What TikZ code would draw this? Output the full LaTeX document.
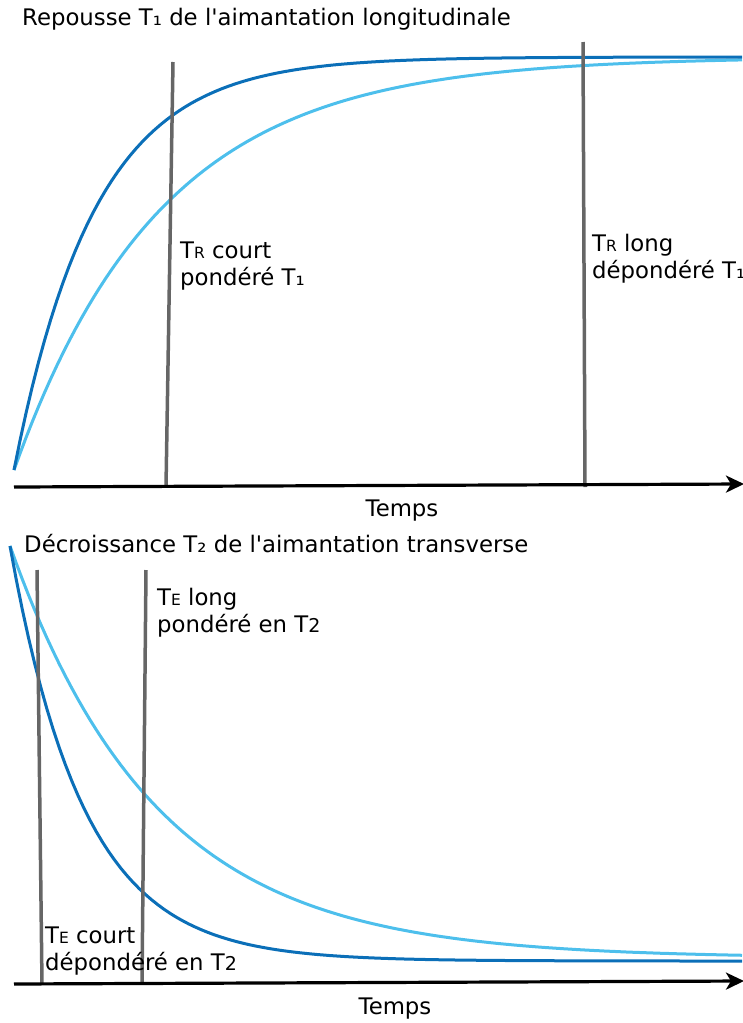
\documentclass[tikz,border=0pt]{standalone}
\usepackage{fontspec}
\setmainfont{DejaVu Sans}
\usetikzlibrary{arrows.meta}
\definecolor{darkcurve}{HTML}{0B6FB8}
\definecolor{lightcurve}{HTML}{4DBFEC}
\definecolor{markline}{HTML}{666666}
\newcommand{\sm}[1]{{\fontsize{15.5}{15.5}\selectfont #1}}
\newcommand{\ap}{\textquotesingle}
\tikzset{
    axis/.style={line width=3.2pt, -{Stealth[length=18pt,width=17pt,inset=5pt]}},
    curve/.style={line width=3pt},
    marker/.style={markline, line width=3.5pt},
    lbl/.style={anchor=base west, align=left, inner sep=0pt, font=\fontsize{22.8}{27}\selectfont}
}
\begin{document}
\begin{tikzpicture}[x=1pt,y=-1pt]
    \useasboundingbox (0,0) rectangle (742,1023);
    % repousse T1
    \node[lbl] at (22,25) (title1) {Repousse T₁ de l\ap aimantation longitudinale};
    \draw[curve,lightcurve] plot[domain=14:742,samples=120] (\x,{470-413*(1-exp(-(\x-14)/147))});
    \draw[curve,darkcurve] plot[domain=14:742,samples=120] (\x,{470-413*(1-exp(-(\x-14)/81))});
    \draw[marker] (173,62) -- (166,487);
    \draw[marker] (583,42) -- (585,487);
    \draw[axis] (14,487) -- (744,484);
    \node[lbl] at (180,285) (trcourt) {T\sm{R} court\\pondéré T₁};
    \node[lbl] at (592,278) (trlong) {T\sm{R} long\\dépondéré T₁};
    \node[lbl,anchor=base] at (402,516) (temps1) {Temps};
    % decroissance T2
    \node[lbl] at (24,552) (title2) {Décroissance T₂ de l\ap aimantation transverse};
    \draw[curve,lightcurve] plot[domain=10:742,samples=120] (\x,{958-412*exp(-(\x-10)/146)});
    \draw[curve,darkcurve] plot[domain=10:742,samples=120] (\x,{961-415*exp(-(\x-10)/74)});
    \draw[marker] (37,570) -- (42,984);
    \draw[marker] (146,570) -- (142,984);
    \draw[axis] (14,984) -- (744,981);
    \node[lbl] at (157,632) (telong) {T\sm{E} long\\pondéré en T{\fontsize{19}{19}\selectfont 2}};
    \node[lbl] at (45,970) (tecourt) {T\sm{E} court\\dépondéré en T{\fontsize{19}{19}\selectfont 2}};
    \node[lbl,anchor=base] at (395,1014) (temps2) {Temps};
\end{tikzpicture}
\end{document}
